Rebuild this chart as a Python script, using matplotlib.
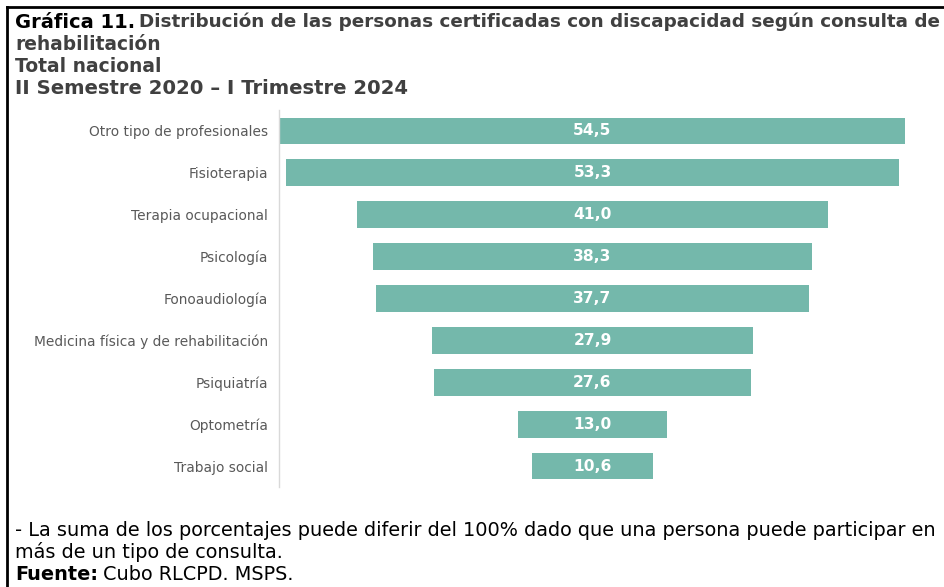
import matplotlib
matplotlib.use('Agg')
from matplotlib import pyplot as plt
from matplotlib.lines import Line2D

categorias = ['Otro tipo de profesionales', 'Fisioterapia', 'Terapia ocupacional',
              'Psicología', 'Fonoaudiología', 'Medicina física y de rehabilitación',
              'Psiquiatría', 'Optometría', 'Trabajo social']
valores = [54.5, 53.3, 41.0, 38.3, 37.7, 27.9, 27.6, 13.0, 10.6]

bar_color = '#74b8ab'
label_color = '#595959'
title_color = '#404040'

plt.rcParams['font.family'] = 'DejaVu Sans'

W, H = 944, 587
fig = plt.figure(figsize=(W / 100, H / 100), dpi=100)

# funnel: bars centred on zero
ax = fig.add_axes([279 / W, 1 - 487 / H, 627 / W, 377 / H])
y = list(range(len(categorias)))
lefts = [-v / 2 for v in valores]
rects = ax.barh(y, valores, left=lefts, height=0.64, color=bar_color)
ax.bar_label(rects, labels=[f'{v:.1f}'.replace('.', ',') for v in valores],
             label_type='center', color='white', fontweight='bold', fontsize=11.2)
ax.set_xlim(-54.6 / 2, 54.6 / 2)
ax.set_ylim(len(categorias) - 0.5, -0.5)
ax.set_yticks(y, categorias)
ax.tick_params(axis='y', length=0, pad=8, labelsize=9.95, labelcolor=label_color)
ax.set_xticks([])
for s in ['top', 'right', 'bottom']:
    ax.spines[s].set_visible(False)
ax.spines['left'].set_color('#d9d9d9')
ax.spines['left'].set_linewidth(1)

# title
r = fig.canvas.get_renderer()
t1 = fig.text(15 / W, 1 - 22 / H, 'Gráfica 11.', fontsize=14, fontweight='bold',
              color='black', va='center')
bb = t1.get_window_extent(r)
fig.text(bb.x1 / W + 4 / W, 1 - 22 / H, 'Distribución de las personas certificadas con discapacidad según consulta de',
         fontsize=13.2, fontweight='bold', color=title_color, va='center')
lineas = ['rehabilitación', 'Total nacional', 'II Semestre 2020 – I Trimestre 2024']
tamanos = [13.4, 13.5, 14.1]
for i, line in enumerate(lineas):
    fig.text(15 / W, 1 - (44 + i * 22.5) / H, line, fontsize=tamanos[i], fontweight='bold',
             color=title_color, va='center')

# notes
fs = 13.9
fig.text(15 / W, 1 - 530 / H,
         '- La suma de los porcentajes puede diferir del 100% dado que una persona puede participar en',
         fontsize=fs, color='black', va='center')
fig.text(15 / W, 1 - 552 / H, 'más de un tipo de consulta.', fontsize=fs, color='black', va='center')
t2 = fig.text(15 / W, 1 - 574 / H, 'Fuente:', fontsize=fs, fontweight='bold', color='black', va='center')
bb = t2.get_window_extent(r)
fig.text(bb.x1 / W + 5 / W, 1 - 574 / H, 'Cubo RLCPD. MSPS.', fontsize=fs, color='black', va='center')

# frame lines
fig.add_artist(Line2D([7 / W, 1], [1 - 7 / H, 1 - 7 / H], color='black', lw=2))
fig.add_artist(Line2D([7 / W, 7 / W], [0, 1 - 7 / H], color='black', lw=2))

fig.savefig('out.png', dpi=100)
